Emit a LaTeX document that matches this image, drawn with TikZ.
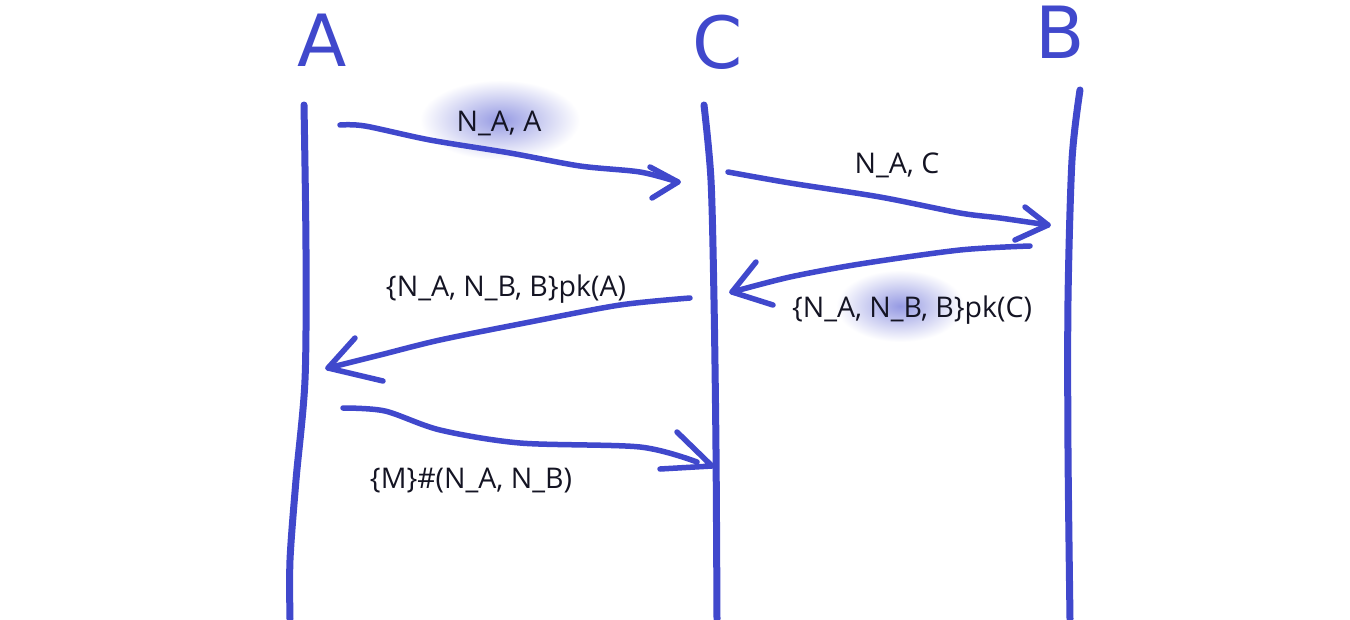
\documentclass[tikz,border=0pt]{standalone}
\usepackage{fontspec}
\setmainfont{Open Sans}
\newfontfamily\bigletters{DejaVu Sans}
\definecolor{ink}{RGB}{64,72,204}
\definecolor{txt}{RGB}{20,20,35}
\tikzset{
  lifeline/.style={draw=ink, line width=7pt, line cap=round, line join=round},
  msg/.style={draw=ink, line width=5.5pt, line cap=round, line join=round},
  lbl/.style={text=txt, font=\fontsize{28.5}{33}\selectfont, inner sep=0pt},
  actor/.style={text=ink, font=\bigletters\fontsize{72}{80}\selectfont, inner sep=0pt},
  blob/.style={inner color=ink!55!white, outer color=white}
}
\begin{document}
\begin{tikzpicture}[x=1pt,y=-1pt]
\useasboundingbox (0,0) rectangle (1350,619);
\fill[white] (0,0) rectangle (1350,619);
% highlight blobs
\shade[blob] (500,120) ellipse [x radius=80, y radius=40];
\shade[blob] (900,306) ellipse [x radius=64, y radius=36];
% actors
\node[actor] (tA) at (322,40) {A};
\node[actor] (tC) at (718,42) {C};
\node[actor] (tB) at (1060,32) {B};
% lifelines
\coordinate (a0) at (304,105); \coordinate (a1) at (290,619);
\coordinate (c0) at (704,105); \coordinate (c1) at (717,619);
\coordinate (b0) at (1080,90); \coordinate (b1) at (1070,619);
\draw[lifeline] plot[smooth] coordinates {(a0) (306,250) (305,380) (296,480) (290,560) (a1)};
\draw[lifeline] plot[smooth] coordinates {(c0) (711,180) (714,300) (716,450) (c1)};
\draw[lifeline] plot[smooth] coordinates {(b0) (1072,160) (1068,300) (1068,450) (b1)};
% message 1: A -> C
\coordinate (m1s) at (340,125); \coordinate (m1e) at (678,182);
\draw[msg] plot[smooth] coordinates {(m1s) (365,126) (430,140) (510,153) (580,166) (640,172) (m1e)};
\draw[msg] (650,167) -- (m1e) -- (652,198);
% message 2: C -> B
\coordinate (m2s) at (728,172); \coordinate (m2e) at (1048,225);
\draw[msg] plot[smooth] coordinates {(m2s) (790,183) (880,197) (960,213) (1000,218) (m2e)};
\draw[msg] (1025,207) -- (m2e) -- (1015,240);
% message 3: B -> C
\coordinate (m3s) at (1030,246); \coordinate (m3e) at (732,292);
\draw[msg] plot[smooth] coordinates {(m3s) (960,250) (860,264) (790,277) (m3e)};
\draw[msg] (756,262) -- (m3e) -- (773,305);
% message 4: C -> A
\coordinate (m4s) at (690,298); \coordinate (m4e) at (328,368);
\draw[msg] plot[smooth] coordinates {(m4s) (620,305) (530,322) (440,340) (380,355) (m4e)};
\draw[msg] (355,338) -- (m4e) -- (383,381);
% message 5: A -> C
\coordinate (m5s) at (343,408); \coordinate (m5e) at (712,466);
\draw[msg] plot[smooth] coordinates {(m5s) (385,411) (440,430) (520,443) (640,447) (697,462)};
\draw[msg] (677,432) -- (m5e) -- (660,469);
% labels
\node[lbl] (l1) at (499,123) {N\_A, A};
\node[lbl] (l2) at (897,165) {N\_A, C};
\node[lbl] (l3) at (912,310) {\{N\_A, N\_B, B\}pk(C)};
\node[lbl] (l4) at (506,289) {\{N\_A, N\_B, B\}pk(A)};
\node[lbl] (l5) at (471,481) {\{M\}\#(N\_A, N\_B)};
\end{tikzpicture}
\end{document}
